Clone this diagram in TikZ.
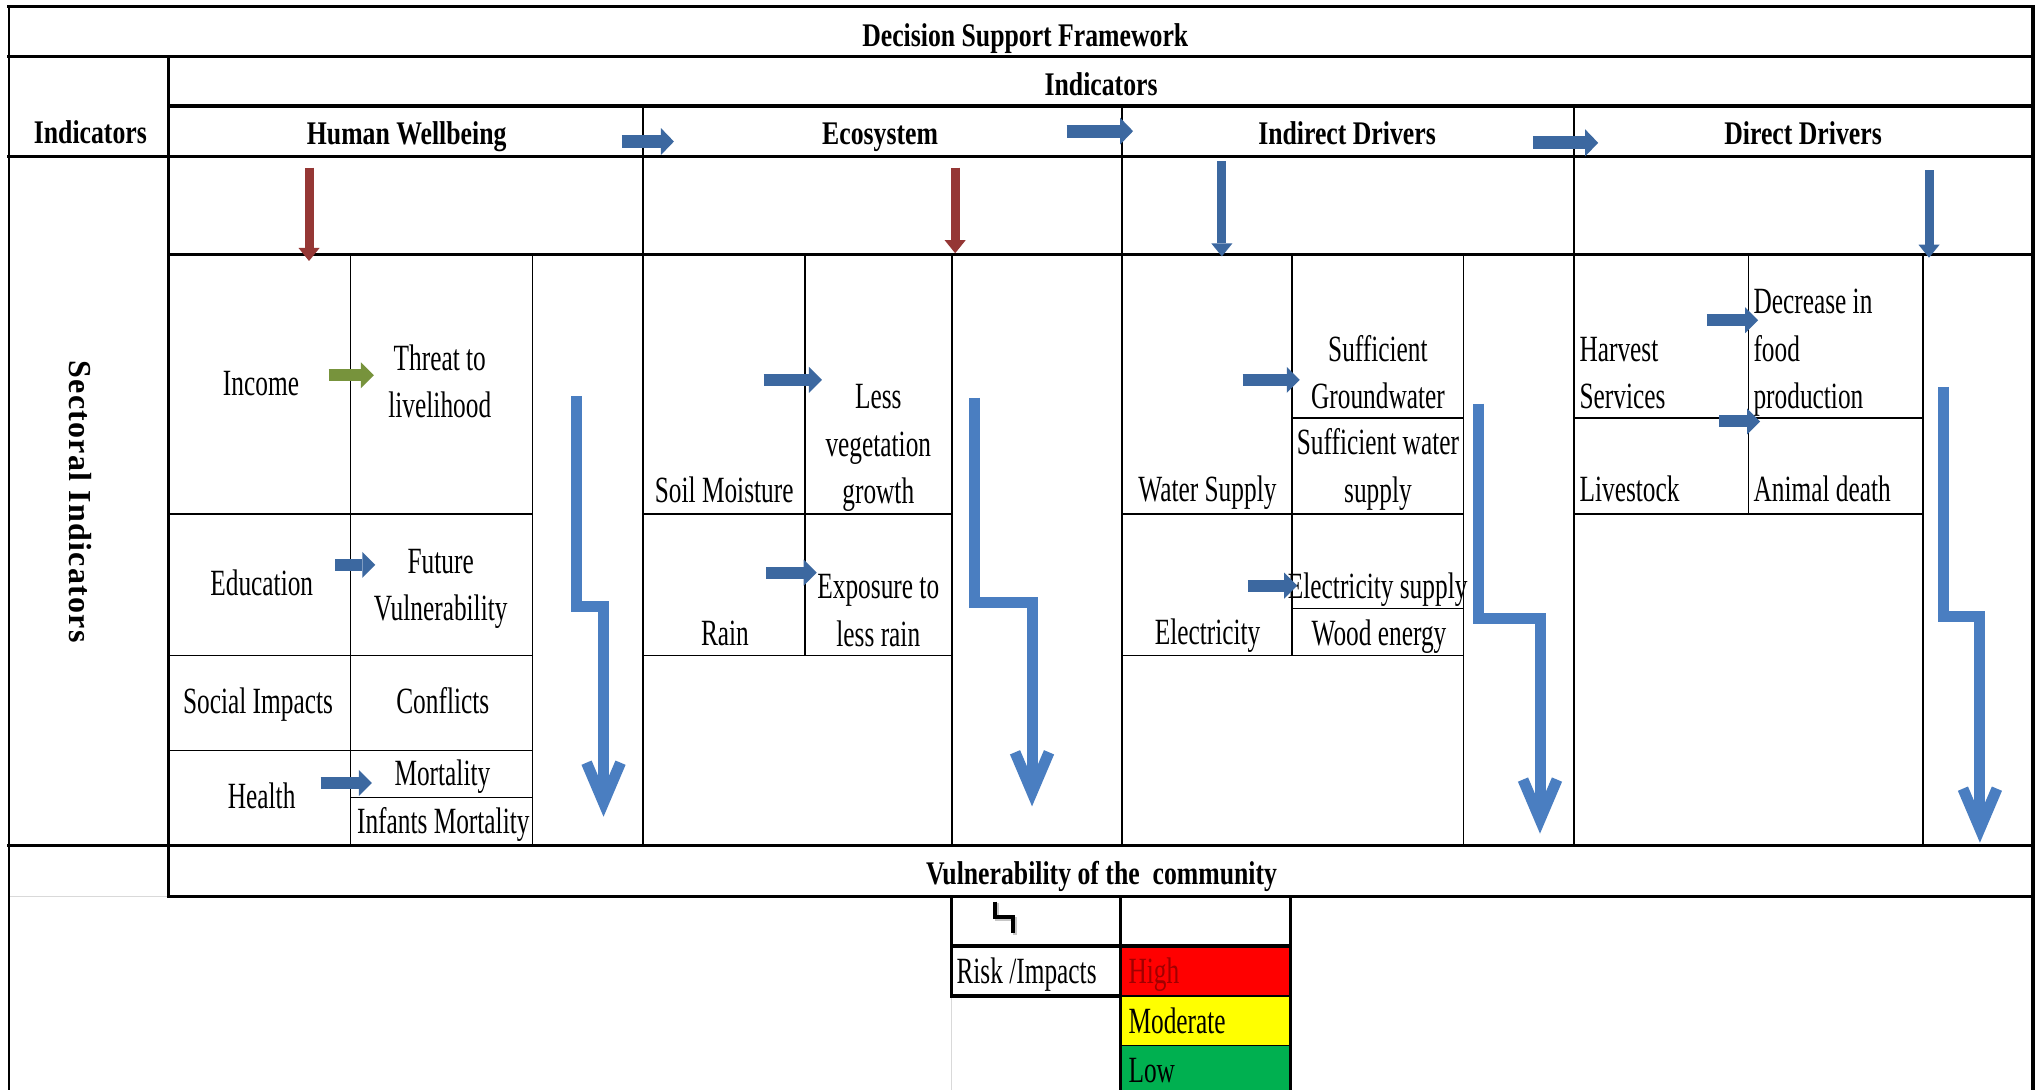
\documentclass[tikz,border=0pt]{standalone}
\usepackage{fontspec}
\setmainfont{Liberation Serif}
\newfontfamily\bodyfont{Liberation Serif}[FakeStretch=0.685]
\newfontfamily\headfont{Liberation Serif}[FakeStretch=0.78]
\newfontfamily\sectfont{Liberation Serif}[LetterSpace=4]
\usetikzlibrary{arrows.meta}
\definecolor{darkblue}{HTML}{3C68A0}
\definecolor{stepblue}{HTML}{4A7EC1}
\definecolor{darkred}{HTML}{953735}
\definecolor{olivegreen}{HTML}{77933C}
\definecolor{hired}{HTML}{FF0000}
\definecolor{moyellow}{HTML}{FFFF00}
\definecolor{logreen}{HTML}{00B050}
\definecolor{hightext}{HTML}{A00000}
\begin{document}
\begin{tikzpicture}[x=1.2985pt, y=-1.2985pt,
  thickln/.style={line width=3.2pt, line cap=rect},
  thinln/.style={line width=1.5pt},
  body/.style={font=\bodyfont\fontsize{37}{47.5}\selectfont, inner sep=0pt, align=center},
  bodyl/.style={body, align=left, anchor=west},
  head/.style={font=\headfont\bfseries\fontsize{33}{40}\selectfont, inner sep=0pt},
  sarrow/.style={draw=darkblue, line width=12pt, -{Triangle[length=13pt, width=26pt, line width=0pt]}},
  harrow/.style={draw=darkblue, line width=13pt, -{Triangle[length=13pt, width=27pt, line width=0pt]}},
  varrow/.style={line width=9pt, -{Triangle[length=13pt, width=21pt, line width=0pt]}},
  steparrow/.style={draw=stepblue, line width=11pt, line join=miter, -{Straight Barb[length=40pt, width=34pt]}},
]
\fill[white] (0,0) rectangle (1568,839.4);
\useasboundingbox (0,0) rectangle (1568,839.4);

% legend fills
\fill[hired] (863,728.5) rectangle (994,767);
\fill[moyellow] (863,767) rectangle (994,805);
\fill[logreen] (863,805) rectangle (994,839.4);

% faint grid remnants
\draw[gray!30, line width=1.2pt] (733,767) -- (733,839.4);
\draw[gray!30, line width=1.2pt] (6.9,690.7) -- (130,690.7);

% thin column separators
\draw[thinln] (495,81.6) -- (495,651);
\draw[thinln] (864,81.6) -- (864,651);
\draw[thinln] (1212,81.6) -- (1212,651);

% Human Wellbeing cells
\draw[thinln] (270,195.8) -- (270,651);
\draw[thinln] (410,195.8) -- (410,651);
\draw[thinln] (130,396) -- (410,396);
\draw[thinln] (130,505) -- (410,505);
\draw[thinln] (130,578) -- (410,578);
\draw[thinln] (270,614) -- (410,614);
% Ecosystem cells
\draw[thinln] (620,195.8) -- (620,505);
\draw[thinln] (733,195.8) -- (733,651);
\draw[thinln] (495,396) -- (733,396);
\draw[thinln] (495,505) -- (733,505);
% Indirect drivers cells
\draw[thinln] (995,195.8) -- (995,505);
\draw[thinln] (1127,195.8) -- (1127,651);
\draw[thinln] (995,322) -- (1127,322);
\draw[thinln] (864,396) -- (1127,396);
\draw[thinln] (995,468.6) -- (1127,468.6);
\draw[thinln] (864,505) -- (1127,505);
% Direct drivers cells
\draw[thinln] (1346.5,195.8) -- (1346.5,396);
\draw[thinln] (1481,195.8) -- (1481,651);
\draw[thinln] (1212,322) -- (1481,322);
\draw[thinln] (1212,396) -- (1481,396);

% outer frame and thick rules
\draw[line width=2.2pt] (6.9,5.1) -- (6.9,839.4);
\draw[thickln] (1565.6,5.1) -- (1565.6,839.4);
\draw[thickln] (6.9,5.1) -- (1565.6,5.1);
\draw[thickln] (6.9,43.6) -- (1565.6,43.6);
\draw[thickln] (130,81.6) -- (1565.6,81.6);
\draw[thickln] (6.9,120.7) -- (1565.6,120.7);
\draw[thickln] (130,195.8) -- (1565.6,195.8);
\draw[thickln] (6.9,651) -- (1565.6,651);
\draw[thickln] (130,690.7) -- (1565.6,690.7);
\draw[thickln] (130,43.6) -- (130,690.7);

% legend rules
\draw[thickln] (733,690.7) -- (733,767) -- (863,767);
\draw[thickln] (733,728.5) -- (994,728.5);
\draw[thickln] (994,690.7) -- (994,839.4);
\draw[line width=2.2pt] (863,690.7) -- (863,839.4);
\draw[thinln] (863,767) -- (994,767);
\draw[thinln] (863,805) -- (994,805);

% legend step symbol
\draw[gray!45, line width=4pt] (767.8,695.8) -- (767.8,707.4) -- (781.6,707.4) -- (781.6,720.2);
\draw[black, line width=4pt] (766.3,694.4) -- (766.3,706) -- (780.2,706) -- (780.2,718.8);

% headers
\node[head] (title) at (789.6,29.7) {\strut Decision Support Framework};
\node[head] (indtop) at (848,67.2) {\strut Indicators};
\node[head] (indleft) at (69.6,104.6) {\strut Indicators};
\node[head] (hw) at (313.2,105.4) {\strut Human Wellbeing};
\node[head] (eco) at (677.8,105.2) {\strut Ecosystem};
\node[head] (idr) at (1037.4,105.2) {\strut Indirect Drivers};
\node[head] (ddr) at (1388.6,105.2) {\strut Direct Drivers};
\node[head] (vul) at (848.4,675.1) {\strut Vulnerability of the\ \ community};
\node[font=\sectfont\bfseries\fontsize{32}{38}\selectfont, rotate=-90, inner sep=0pt] (sect) at (61.6,386.3) {Sectoral Indicators};

% body texts
\node[body] (income) at (201,297) {\strut Income};
\node[body] (threat) at (338.7,296.2) {\strut Threat to\\\strut livelihood};
\node[body] (edu) at (201.6,451) {\strut Education};
\node[body] (fut) at (339.4,452.3) {\strut Future\\\strut Vulnerability};
\node[body] (soc) at (198.7,542.4) {\strut Social Impacts};
\node[body] (conf) at (341,542.4) {\strut Conflicts};
\node[body] (health) at (201.5,615.3) {\strut Health};
\node[body] (mort) at (340.7,597.6) {\strut Mortality};
\node[body] (inf) at (341.4,634.8) {\strut Infants Mortality};
\node[body] (soil) at (557.7,380) {\strut Soil Moisture};
\node[body] (lessveg) at (676.4,344) {\strut Less\\\strut vegetation\\\strut growth};
\node[body] (rain) at (558.3,489.7) {\strut Rain};
\node[body] (expo) at (676.4,471.9) {\strut Exposure to\\\strut less rain};
\node[body] (water) at (929.9,379) {\strut Water Supply};
\node[body] (ground) at (1061.2,289) {\strut Sufficient\\\strut Groundwater};
\node[body] (suffw) at (1061.2,361.3) {\strut Sufficient water\\\strut supply};
\node[body] (elec) at (930,489) {\strut Electricity};
\node[body] (elecs) at (1061,453.3) {\strut Electricity supply};
\node[body] (wood) at (1062,489.7) {\strut Wood energy};
\node[bodyl] (harv) at (1216.3,289) {\strut Harvest\\\strut Services};
\node[bodyl] (live) at (1216.3,379) {\strut Livestock};
\node[bodyl] (decr) at (1350.3,270.8) {\strut Decrease in\\\strut food\\\strut production};
\node[bodyl] (animal) at (1350.3,379) {\strut Animal death};
\node[bodyl] (risk) at (736.5,750.3) {\strut Risk /Impacts};
\node[bodyl, text=hightext] (high) at (869,750.3) {\strut High};
\node[bodyl] (mod) at (869,788.8) {\strut Moderate};
\node[bodyl] (low) at (869,826) {\strut Low};

% header arrows
\coordinate (h1s) at (479,109);   \coordinate (h1e) at (519,109);
\coordinate (h2s) at (821.5,101); \coordinate (h2e) at (872.6,101);
\coordinate (h3s) at (1180.6,110); \coordinate (h3e) at (1230.8,110);
\draw[harrow] (h1s) -- (h1e);
\draw[harrow] (h2s) -- (h2e);
\draw[harrow] (h3s) -- (h3e);

% vertical arrows in the second row
\coordinate (v1s) at (238,129);    \coordinate (v1e) at (238,201);
\coordinate (v2s) at (735.6,129);  \coordinate (v2e) at (735.6,195);
\coordinate (v3s) at (941,124);    \coordinate (v3e) at (941,197.5);
\coordinate (v4s) at (1485.6,131); \coordinate (v4e) at (1485.6,198.5);
\draw[varrow, draw=darkred] (v1s) -- (v1e);
\draw[varrow, draw=darkred] (v2s) -- (v2e);
\draw[varrow, draw=darkblue] (v3s) -- (v3e);
\draw[varrow, draw=darkblue] (v4s) -- (v4e);

% small arrows between cells
\coordinate (a1s) at (253,289);     \coordinate (a1e) at (288,289);
\coordinate (a2s) at (258,435);     \coordinate (a2e) at (289,435);
\coordinate (a3s) at (247,603);     \coordinate (a3e) at (286.4,603);
\coordinate (a4s) at (588,292.6);   \coordinate (a4e) at (633,292.6);
\coordinate (a5s) at (590,441);     \coordinate (a5e) at (629,441);
\coordinate (a6s) at (957,292.6);   \coordinate (a6e) at (1001,292.6);
\coordinate (a7s) at (961,451);     \coordinate (a7e) at (999,451);
\coordinate (a8s) at (1314.5,246.6); \coordinate (a8e) at (1354,246.6);
\coordinate (a9s) at (1324,324.6);  \coordinate (a9e) at (1355.5,324.6);
\draw[sarrow, draw=olivegreen] (a1s) -- (a1e);
\draw[sarrow] (a2s) -- (a2e);
\draw[sarrow] (a3s) -- (a3e);
\draw[sarrow] (a4s) -- (a4e);
\draw[sarrow] (a5s) -- (a5e);
\draw[sarrow] (a6s) -- (a6e);
\draw[sarrow] (a7s) -- (a7e);
\draw[sarrow] (a8s) -- (a8e);
\draw[sarrow] (a9s) -- (a9e);

% big step arrows
\coordinate (s1s) at (443.7,305);  \coordinate (s1e) at (464.8,629);
\coordinate (s2s) at (750.6,306.5); \coordinate (s2e) at (794.8,621);
\coordinate (s3s) at (1139,310.9); \coordinate (s3e) at (1186,642);
\coordinate (s4s) at (1497,298);   \coordinate (s4e) at (1524.8,649);
\draw[steparrow] (s1s) -- (443.7,467.2) -- (464.8,467.2) -- (s1e);
\draw[steparrow] (s2s) -- (750.6,464) -- (794.8,464) -- (s2e);
\draw[steparrow] (s3s) -- (1139,476.7) -- (1186,476.7) -- (s3e);
\draw[steparrow] (s4s) -- (1497,475) -- (1524.8,475) -- (s4e);
\end{tikzpicture}
\end{document}
